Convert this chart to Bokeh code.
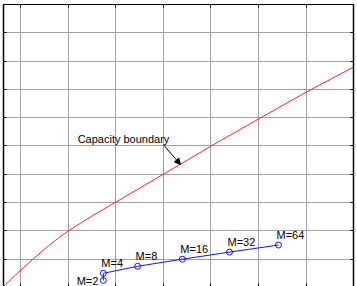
from bokeh.plotting import figure
from bokeh.models import Range1d, FixedTicker, LinearAxis, ColumnDataSource, Arrow, NormalHead, Label
from bokeh.core.properties import value
from bokeh.embed import file_html
from bokeh.resources import INLINE

# Capacity boundary (Eb/N0 in dB, spectral efficiency)
cap_ebno = [-1.9, -1.79, -0.32, 1.26, 2.94, 3.89, 4.94, 6.2, 7.46, 8.72, 9.98,
            15.02, 19.96, 25.0, 30.05, 34.99]
cap_r = [0.0, 0.07, 1.01, 1.98, 2.95, 3.45, 3.96, 4.51, 5.03, 5.53, 6.02,
         8.01, 9.97, 11.91, 13.82, 15.58]

# M-ary points
m_labels = ["M=2", "M=4", "M=8", "M=16", "M=32", "M=64"]
m_ebno = [8.7, 8.7, 12.3, 17.0, 21.95, 27.1]
m_r = [0.5, 1.0, 1.5, 2.0, 2.5, 3.0]

x_ticks = [0, 5, 10, 15, 20, 25, 30, 35]
y_ticks = [0, 2, 4, 6, 8, 10, 12, 14, 16, 18, 20]

FONT = "Liberation Sans"

p = figure(width=357, height=286, x_range=Range1d(-1.79, 34.98), y_range=Range1d(0.07, 20),
           min_border_left=3, min_border_right=4, min_border_top=4, min_border_bottom=0,
           output_backend="svg", toolbar_location=None)
p.outline_line_color = None
p.background_fill_color = "white"
p.border_fill_color = "white"

p.xaxis.ticker = FixedTicker(ticks=x_ticks)
p.yaxis.ticker = FixedTicker(ticks=y_ticks)
p.xgrid.ticker = FixedTicker(ticks=x_ticks)
p.ygrid.ticker = FixedTicker(ticks=y_ticks)
p.add_layout(LinearAxis(ticker=FixedTicker(ticks=x_ticks)), "above")
p.add_layout(LinearAxis(ticker=FixedTicker(ticks=y_ticks)), "right")

for ax in p.axis:
    ax.major_label_text_font_size = "0px"
    ax.major_label_standoff = 0
    ax.major_tick_in = 3
    ax.major_tick_out = 0
    ax.minor_tick_line_color = None
    ax.major_tick_line_color = "black"
    ax.axis_line_color = "black"
    ax.axis_line_width = 1
p.below[0].axis_line_color = None
p.left[0].axis_line_width = 1.5
p.right[0].axis_line_width = 1.5

for g in (p.xgrid, p.ygrid):
    g.grid_line_color = "#a0a0a0"
    g.grid_line_width = 1

cap = ColumnDataSource(dict(x=cap_ebno, y=cap_r))
p.line("x", "y", source=cap, line_color="#ff2020", line_width=1)

ms = ColumnDataSource(dict(x=m_ebno, y=m_r, t=m_labels))
p.line("x", "y", source=ms, line_color="#1010ff", line_width=1)
p.scatter("x", "y", source=ms, marker="circle", size=6, fill_color=None,
          line_color="#1010ff", line_width=1)

ms_up = ColumnDataSource(dict(x=m_ebno[1:], y=m_r[1:], t=m_labels[1:]))
p.text("x", "y", text="t", source=ms_up, text_font=value(FONT), text_font_size="11px",
       text_color="black", text_align="left", text_baseline="middle",
       x_offset=-2, y_offset=-10)
ms_dn = ColumnDataSource(dict(x=m_ebno[:1], y=m_r[:1], t=m_labels[:1]))
p.text("x", "y", text="t", source=ms_dn, text_font=value(FONT), text_font_size="11px",
       text_color="black", text_align="right", text_baseline="middle",
       x_offset=-5, y_offset=1)

p.add_layout(Label(x=6.0, y=10.1, text="Capacity boundary", text_font=FONT,
                   text_font_size="11px", text_color="black"))
p.add_layout(Arrow(x_start=15.0, y_start=10.1, x_end=16.8, y_end=8.69,
                   line_color="black", line_width=1,
                   end=NormalHead(size=6, fill_color="black", line_color="black")))

open("out.html", "w").write(file_html(p, INLINE))
